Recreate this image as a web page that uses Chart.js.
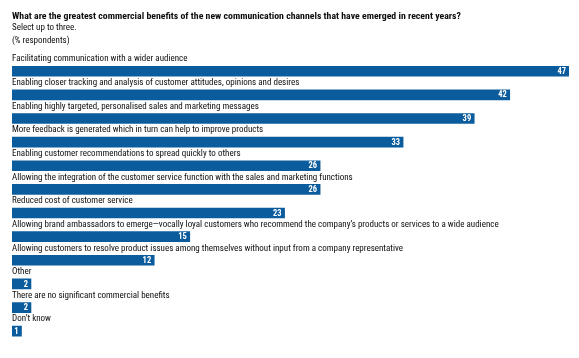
<!DOCTYPE html>
<html>
<head>
<meta charset="utf-8">
<script src="https://cdn.jsdelivr.net/npm/chart.js@4/dist/chart.umd.min.js"></script>
<style>
html,body{margin:0;padding:0;background:#fff;}
#c{display:block;}
</style>
</head>
<body>
<canvas id="c" width="579" height="358"></canvas>
<script>
const categories = [
  "Facilitating communication with a wider audience",
  "Enabling closer tracking and analysis of customer attitudes, opinions and desires",
  "Enabling highly targeted, personalised sales and marketing messages",
  "More feedback is generated which in turn can help to improve products",
  "Enabling customer recommendations to spread quickly to others",
  "Allowing the integration of the customer service function with the sales and marketing functions",
  "Reduced cost of customer service",
  "Allowing brand ambassadors to emerge\u2014vocally loyal customers who recommend the company\u2019s products or services to a wide audience",
  "Allowing customers to resolve product issues among themselves without input from a company representative",
  "Other",
  "There are no significant commercial benefits",
  "Don\u2019t know"
];
const values = [47, 42, 39, 33, 26, 26, 23, 15, 12, 1.6, 1.6, 0.8];
const valueLabels = ["47", "42", "39", "33", "26", "26", "23", "15", "12", "2", "2", "1"];
const titleText = "What are the greatest commercial benefits of the new communication channels that have emerged in recent years?";
const subtitleLines = ["Select up to three.", "(% respondents)"];

const FONT = "'Roboto Condensed', 'DejaVu Sans Condensed', sans-serif";

const labelPlugin = {
  id: 'barLabels',
  afterDatasetsDraw(chart) {
    const ctx = chart.ctx;
    const meta = chart.getDatasetMeta(0);
    ctx.save();
    meta.data.forEach((bar, i) => {
      ctx.fillStyle = '#0d0d0d';
      ctx.font = "9px " + FONT;
      ctx.textAlign = 'left';
      ctx.textBaseline = 'middle';
      ctx.fillText(categories[i], chart.chartArea.left, bar.y - 12);
      ctx.fillStyle = '#ffffff';
      ctx.font = "bold 8.5px " + FONT;
      ctx.textAlign = 'right';
      ctx.fillText(valueLabels[i], bar.x - 3, bar.y + 0.5);
    });
    ctx.restore();
  }
};

new Chart(document.getElementById('c'), {
  type: 'bar',
  data: {
    labels: categories,
    datasets: [{
      data: values,
      backgroundColor: '#0b5c9d',
      borderWidth: 0,
      barThickness: 10
    }]
  },
  options: {
    indexAxis: 'y',
    responsive: false,
    animation: false,
    devicePixelRatio: 1,
    layout: { padding: { left: 12, right: 10, top: 0, bottom: 15 } },
    scales: {
      x: { display: false, min: 0, max: 47 },
      y: { display: false }
    },
    plugins: {
      legend: { display: false },
      tooltip: { enabled: false },
      title: {
        display: true,
        text: titleText,
        align: 'start',
        color: '#0d0d0d',
        font: { family: FONT, size: 9.8, weight: 'bold', lineHeight: 1.05 },
        padding: { top: 11.2, bottom: 0 }
      },
      subtitle: {
        display: true,
        text: subtitleLines,
        align: 'start',
        color: '#0d0d0d',
        font: { family: FONT, size: 9, lineHeight: 1.4 },
        padding: { top: 0, bottom: 12.7 }
      }
    }
  },
  plugins: [labelPlugin]
});
</script>
</body>
</html>
